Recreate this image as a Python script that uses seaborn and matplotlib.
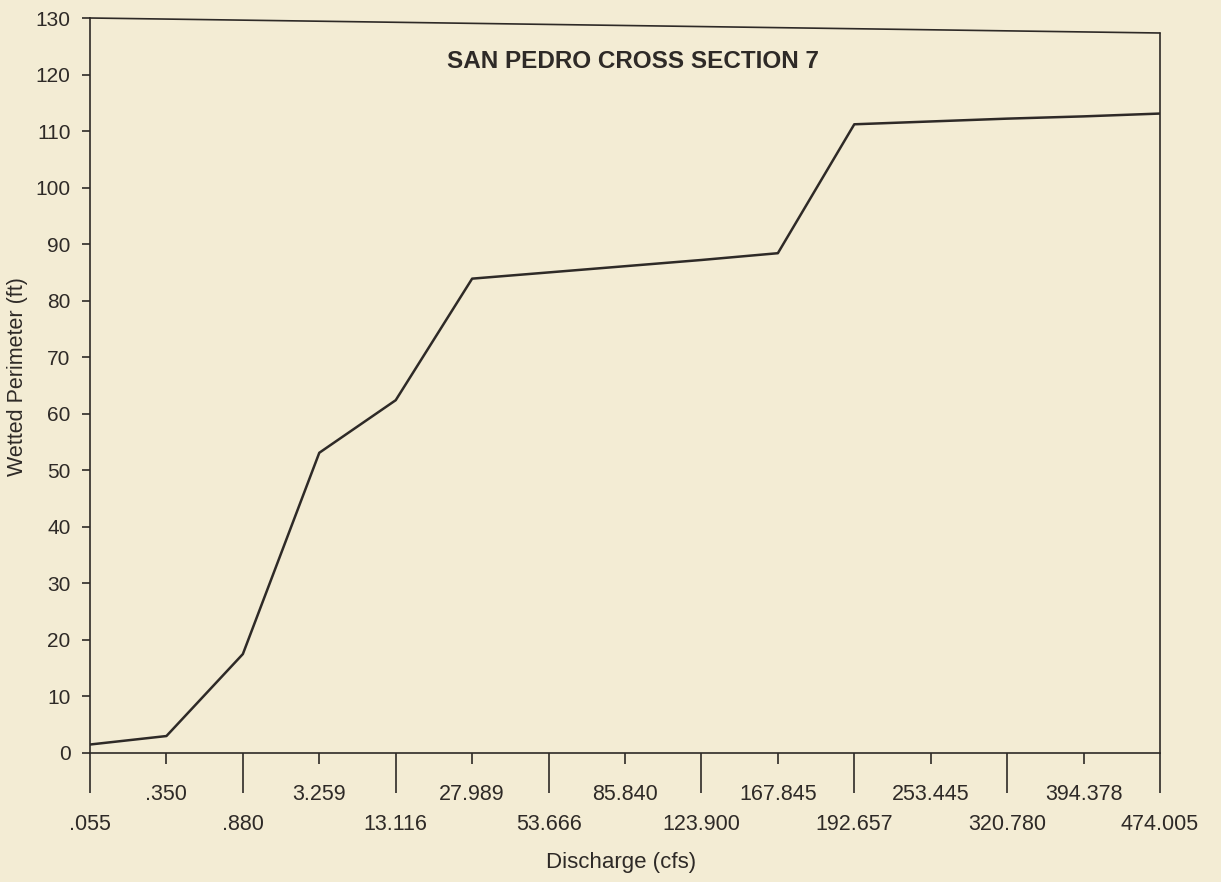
import numpy as np
import pandas as pd
import matplotlib
matplotlib.use("Agg")
import matplotlib.pyplot as plt
from matplotlib.ticker import FixedLocator, FixedFormatter
import seaborn as sns

# Discharge steps (cfs) as printed on the axis, and wetted perimeter (ft)
discharge_labels = [".055", ".350", ".880", "3.259", "13.116", "27.989", "53.666",
                    "85.840", "123.900", "167.845", "192.657", "253.445",
                    "320.780", "394.378", "474.005"]
wetted_perimeter = [1.5, 3.0, 17.5, 53.1, 62.4, 83.9, 85.0, 86.1, 87.2, 88.4,
                    111.2, 111.7, 112.2, 112.6, 113.1]
y_ticks = list(range(0, 131, 10))

title = "SAN PEDRO CROSS SECTION 7"
x_label = "Discharge (cfs)"
y_label = "Wetted Perimeter (ft)"

paper = "#f3ecd4"
ink = "#2e2a27"

sns.set_theme(style="ticks")
plt.rcParams["font.family"] = ["Liberation Sans", "DejaVu Sans"]

df = pd.DataFrame({"pos": np.arange(len(discharge_labels)),
                   "perimeter": wetted_perimeter})

fig = plt.figure(figsize=(12.21, 8.82), dpi=100, facecolor=paper)
ax = fig.add_axes([90 / 1221, 1 - 753 / 882, (1160 - 90) / 1221, (753 - 18) / 882])
ax.set_facecolor(paper)

sns.lineplot(data=df, x="pos", y="perimeter", ax=ax, color=ink, linewidth=1.8,
             sort=False)

ax.set_xlim(0, len(discharge_labels) - 1)
ax.set_ylim(0, 130)

# Staggered discharge labels: long ticks carry the lower row, short ticks the upper row
even = [i for i in range(len(discharge_labels)) if i % 2 == 0]
odd = [i for i in range(len(discharge_labels)) if i % 2 == 1]
ax.xaxis.set_major_locator(FixedLocator(even))
ax.xaxis.set_major_formatter(FixedFormatter([discharge_labels[i] for i in even]))
ax.xaxis.set_minor_locator(FixedLocator(odd))
ax.xaxis.set_minor_formatter(FixedFormatter([discharge_labels[i] for i in odd]))
ax.tick_params(axis="x", which="major", direction="out", length=29, width=1.2,
               pad=15, labelsize=15.5, colors=ink)
ax.tick_params(axis="x", which="minor", direction="out", length=8, width=1.2,
               pad=14, labelsize=15.5, colors=ink)

ax.set_yticks(y_ticks)
ax.tick_params(axis="y", which="major", direction="out", length=6, width=1.2,
               pad=8, labelsize=15, colors=ink)

for side in ("left", "bottom"):
    ax.spines[side].set_color(ink)
    ax.spines[side].set_linewidth(1.2)
ax.spines["top"].set_visible(False)
ax.spines["right"].set_visible(False)

# Upper and right frame edges of the printed box
top_right = 1 - 15 / 735
ax.plot([0, 1], [1, top_right], transform=ax.transAxes, color=ink, lw=1.2,
        clip_on=False)
ax.plot([1, 1], [0, top_right], transform=ax.transAxes, color=ink, lw=1.2,
        clip_on=False)

ax.text((633 - 90) / 1070, (753 - 62) / 735, title, transform=ax.transAxes,
        ha="center", va="center", fontsize=17.5, fontweight="bold", color=ink)

ax.set_xlabel(x_label, fontsize=16, color=ink)
ax.set_ylabel(y_label, fontsize=15.5, color=ink)
ax.xaxis.set_label_coords((621 - 90) / 1070, -(852 - 753) / 735)
ax.yaxis.set_label_coords(-(90 - 28) / 1070, (753 - 377) / 735)

fig.savefig("out.png", dpi=100, facecolor=paper)
